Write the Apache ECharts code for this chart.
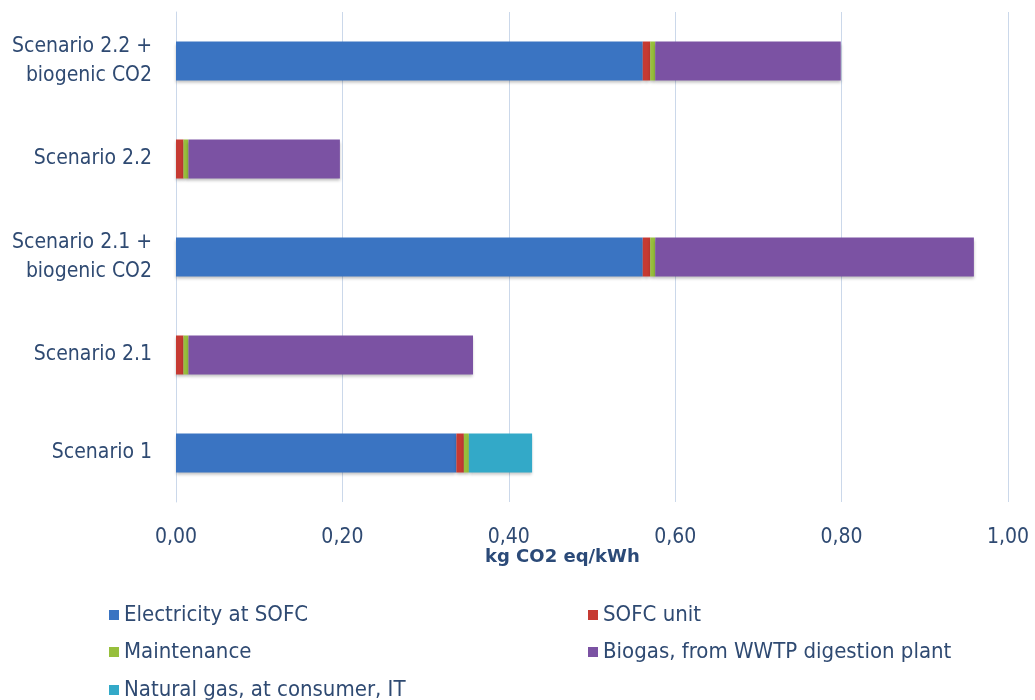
<!DOCTYPE html>
<html><head><meta charset="utf-8">
<script src="https://cdn.jsdelivr.net/npm/echarts@6/dist/echarts.min.js"></script>
<style>html,body{margin:0;padding:0;background:#fff}#c{width:1035px;height:700px}</style>
</head><body><div id="c"></div>
<script>
const categories = ['Scenario 1', 'Scenario 2.1', 'Scenario 2.1 +\nbiogenic CO2', 'Scenario 2.2', 'Scenario 2.2 +\nbiogenic CO2'];
const electricity = [0.337, 0, 0.561, 0, 0.561];
const sofcUnit = [0.009, 0.009, 0.009, 0.009, 0.009];
const maintenance = [0.006, 0.006, 0.006, 0.006, 0.006];
const biogas = [0, 0.342, 0.383, 0.182, 0.223];
const naturalGas = [0.076, 0, 0, 0, 0];
const xTicks = [0, 0.2, 0.4, 0.6, 0.8, 1.0];

const FONT = '"Liberation Sans Narrow","DejaVu Sans Condensed",sans-serif';
const TXT = '#2f4a72';
const names = ['Electricity at SOFC','SOFC unit','Maintenance','Biogas, from WWTP digestion plant','Natural gas, at consumer, IT'];
const colors = ['#3a74c2','#c63a32','#97bf3c','#7b52a3','#33a9c8'];
const datas = [electricity, sofcUnit, maintenance, biogas, naturalGas];
const legendPos = [[104,599],[583,599],[104,636],[583,636],[104,674]];

const chart = echarts.init(document.getElementById('c'));
chart.setOption({
  animation:false,
  grid:{left:176, right:27, top:12, bottom:198},
  xAxis:{type:'value', min:xTicks[0], max:xTicks[xTicks.length-1], interval:0.2,
    axisLine:{show:false}, axisTick:{show:false},
    splitLine:{lineStyle:{color:'#cbd8ea', width:1}},
    axisLabel:{margin:25, color:TXT, fontFamily:FONT, fontSize:21,
      formatter:v=>v.toFixed(2).replace('.',',')}},
  yAxis:{type:'category', data:categories,
    axisLine:{show:true, lineStyle:{color:'#cbd8ea'}}, axisTick:{show:false},
    axisLabel:{margin:24, color:TXT, fontFamily:FONT, fontSize:21, lineHeight:29, align:'right'}},
  legend: legendPos.map((p,i)=>({data:[names[i]], left:p[0], top:p[1], icon:'rect', itemWidth:10, itemHeight:10, itemGap:8,
    textStyle:{color:TXT, fontFamily:FONT, fontSize:22}, selectedMode:false})),
  graphic:[{type:'text', left:485, top:548, style:{text:'kg CO2 eq/kWh', font:'bold 18px "DejaVu Sans", Verdana, sans-serif', fill:'#2b4a78'}}],
  series: names.map((n,i)=>({name:n, type:'bar', stack:'t', data:datas[i], barWidth:39,
    itemStyle:{color:colors[i], shadowColor:'rgba(0,0,0,0.25)', shadowBlur:3, shadowOffsetY:2}}))
});
</script></body></html>
